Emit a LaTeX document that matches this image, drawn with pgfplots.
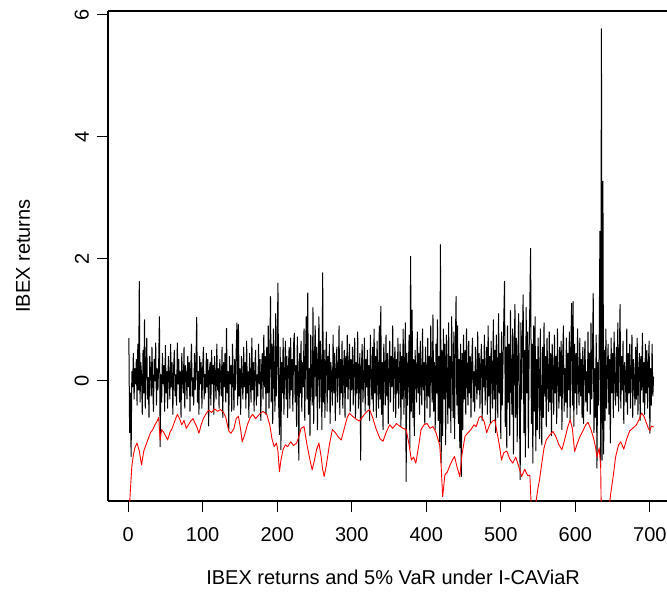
\documentclass[border=0pt]{standalone}
\usepackage{fontspec}
\setmainfont{Liberation Sans}
\usepackage{pgfplots}
\pgfplotsset{compat=1.18}

\begin{document}
\begin{tikzpicture}
\begin{axis}[
    name=ax,
    scale only axis,
    width=279.5pt, height=245pt,
    xmin=-27, xmax=723, ymin=-1.97, ymax=6.06,
    axis x line*=box, axis y line*=left,
    axis line style={line width=0.6pt},
    xtick={0,100,...,700}, ytick={0,2,4,6},
    xtick pos=left, ytick pos=left,
    tick align=outside, major tick length=5.5pt,
    tick style={black, line width=0.6pt},
    tick label style={font=\fontsize{10}{12}\selectfont},
    /pgf/number format/assume math mode=true,
    xticklabel shift=4pt, yticklabel shift=0.5pt,
    yticklabel style={rotate=90, anchor=south},
    xlabel={IBEX returns and 5\% VaR under I-CAViaR},
    ylabel={IBEX returns},
    label style={font=\fontsize{10}{12}\selectfont},
    xlabel style={at={(axis description cs:0.51,-0.155)}, anchor=center},
    ylabel style={at={(axis description cs:-0.152,0.5)}, anchor=center},
]
% IBEX returns
\addplot[black, line width=0.5pt, line join=round] coordinates {
(1,0.70)(2,-0.85)(3,-0.20)(4,-1.24)(5,0.15)(6,-0.10)(7,0.45)(8,-0.30)(9,0.20)(10,-0.05)
(11,0.35)(12,-0.40)(13,0.60)(14,-0.15)(15,1.63)(16,-0.35)(17,0.30)(18,0.10)(19,-0.55)(20,0.50)
(21,-0.20)(22,1.00)(23,-0.45)(24,0.25)(25,0.70)(26,-0.30)(27,0.05)(28,-0.60)(29,0.40)(30,0.15)
(31,-0.25)(32,0.55)(33,-0.10)(34,-0.50)(35,0.35)(36,0.00)(37,0.62)(38,-0.40)(39,0.20)(40,-0.15)
(41,0.30)(42,1.05)(43,-1.08)(44,0.10)(45,-0.35)(46,0.45)(47,-0.05)(48,0.25)(49,-0.50)(50,0.58)
(51,-0.20)(52,0.15)(53,-0.45)(54,0.40)(55,0.05)(56,-0.30)(57,0.60)(58,-0.10)(59,0.30)(60,-0.55)
(61,0.20)(62,0.50)(63,-0.25)(64,0.10)(65,-0.40)(66,0.62)(67,-0.05)(68,0.35)(69,-0.35)(70,0.15)
(71,-0.60)(72,0.45)(73,0.00)(74,-0.20)(75,0.55)(76,-0.45)(77,0.25)(78,0.10)(79,-0.30)(80,0.40)
(81,-0.10)(82,0.30)(83,-0.50)(84,0.20)(85,0.60)(86,-0.25)(87,0.05)(88,-0.40)(89,0.45)(90,-0.15)
(91,0.25)(92,1.04)(93,-0.35)(94,0.15)(95,-0.55)(96,0.40)(97,-0.05)(98,0.30)(99,-0.45)(100,0.20)
(101,0.55)(102,-0.30)(103,0.10)(104,-0.20)(105,0.45)(106,-0.10)(107,0.35)(108,-0.74)(109,0.15)(110,0.30)
(111,-0.40)(112,0.50)(113,-0.05)(114,0.25)(115,-0.55)(116,0.40)(117,0.00)(118,-0.30)(119,0.60)(120,-0.15)
(121,0.20)(122,-0.45)(123,0.35)(124,0.05)(125,-0.25)(126,0.55)(127,-0.60)(128,0.30)(129,-0.10)(130,0.45)
(131,-0.35)(132,0.86)(133,-0.20)(134,0.15)(135,-0.80)(136,0.40)(137,-0.05)(138,0.25)(139,-0.50)(140,0.60)
(141,0.10)(142,-0.48)(143,0.35)(144,-0.15)(145,0.50)(146,0.95)(147,-0.40)(148,0.92)(149,-0.25)(150,0.20)
(151,-0.55)(152,0.40)(153,0.05)(154,-0.30)(155,0.55)(156,-0.10)(157,0.30)(158,-0.45)(159,0.65)(160,-0.20)
(161,0.15)(162,-0.60)(163,0.45)(164,0.00)(165,-0.35)(166,0.70)(167,-0.15)(168,0.30)(169,-0.50)(170,0.25)
(171,0.50)(172,-0.40)(173,0.10)(174,-0.25)(175,0.60)(176,-0.05)(177,0.35)(178,-0.65)(179,0.20)(180,0.45)
(181,-0.30)(182,0.75)(183,-0.10)(184,0.40)(185,-0.55)(186,0.55)(187,-0.20)(188,0.90)(189,-0.45)(190,0.30)
(191,1.38)(192,-0.35)(193,0.60)(194,-0.70)(195,0.85)(196,0.10)(197,-0.50)(198,1.10)(199,-0.25)(200,0.40)
(201,1.60)(202,-0.40)(203,-0.88)(204,0.55)(205,-1.13)(206,0.30)(207,-0.20)(208,0.70)(209,-0.55)(210,0.15)
(211,0.65)(212,-0.30)(213,0.40)(214,-0.60)(215,0.20)(216,0.55)(217,-0.45)(218,0.70)(219,-0.15)(220,0.35)
(221,-0.50)(222,0.60)(223,0.78)(224,-0.35)(225,0.25)(226,-0.75)(227,0.72)(228,0.10)(229,-1.30)(230,0.45)
(231,-0.20)(232,0.65)(233,-0.50)(234,0.30)(235,-0.10)(236,0.85)(237,-0.65)(238,0.40)(239,1.05)(240,-0.30)
(241,1.44)(242,-0.55)(243,0.20)(244,-0.90)(245,0.75)(246,0.05)(247,-0.40)(248,1.20)(249,-0.70)(250,0.35)
(251,0.90)(252,-0.25)(253,0.55)(254,-0.80)(255,0.30)(256,1.05)(257,-0.45)(258,0.65)(259,0.15)(260,-0.80)
(261,1.77)(262,-0.35)(263,0.50)(264,-0.60)(265,0.25)(266,0.80)(267,-0.50)(268,0.40)(269,-0.15)(270,0.60)
(271,-0.70)(272,0.30)(273,0.05)(274,-0.40)(275,0.75)(276,-0.20)(277,0.45)(278,-0.65)(279,0.20)(280,0.55)
(281,-0.35)(282,0.10)(283,0.90)(284,-0.55)(285,0.35)(286,-0.20)(287,0.65)(288,-0.45)(289,0.15)(290,0.50)
(291,-0.60)(292,0.40)(293,-0.10)(294,0.75)(295,-0.30)(296,0.20)(297,0.60)(298,-0.50)(299,0.35)(300,-0.15)
(301,0.55)(302,-0.40)(303,0.25)(304,0.70)(305,-0.60)(306,0.30)(307,-0.20)(308,0.80)(309,-0.45)(310,0.15)
(311,0.45)(312,-1.30)(313,0.20)(314,0.60)(315,-0.35)(316,0.05)(317,0.70)(318,-0.50)(319,0.35)(320,-0.10)
(321,0.50)(322,-0.40)(323,0.25)(324,-0.65)(325,0.75)(326,0.10)(327,-0.30)(328,0.55)(329,-0.50)(330,0.85)
(331,-0.20)(332,0.40)(333,-0.60)(334,0.65)(335,0.05)(336,-0.45)(337,0.90)(338,-0.30)(339,1.22)(340,-0.55)
(341,0.30)(342,-0.80)(343,0.60)(344,0.15)(345,-0.40)(346,0.75)(347,-0.25)(348,0.45)(349,-0.70)(350,0.20)
(351,0.65)(352,-0.35)(353,0.40)(354,-0.10)(355,0.90)(356,-0.50)(357,0.25)(358,0.55)(359,-0.60)(360,0.35)
(361,-0.20)(362,0.70)(363,-0.45)(364,0.10)(365,0.60)(366,-0.75)(367,0.40)(368,-0.30)(369,0.85)(370,-0.55)
(371,0.30)(372,0.95)(373,-1.65)(374,0.45)(375,-0.40)(376,0.20)(377,0.75)(378,-1.10)(379,2.04)(380,-0.50)
(381,1.16)(382,-0.60)(383,0.35)(384,-0.90)(385,0.50)(386,0.10)(387,-0.35)(388,0.80)(389,-0.20)(390,0.45)
(391,-0.55)(392,0.65)(393,0.00)(394,-0.40)(395,0.85)(396,-0.15)(397,0.30)(398,-0.70)(399,0.55)(400,0.10)
(401,-0.45)(402,0.70)(403,-0.25)(404,0.40)(405,-0.60)(406,0.90)(407,0.15)(408,-0.35)(409,1.08)(410,-0.50)
(411,0.30)(412,-0.80)(413,0.60)(414,-0.20)(415,1.00)(416,-0.65)(417,0.40)(418,-1.00)(419,2.23)(420,-1.35)
(421,0.50)(422,-0.90)(423,0.85)(424,-0.30)(425,0.60)(426,-1.05)(427,0.75)(428,0.10)(429,-0.70)(430,0.95)
(431,-0.45)(432,0.40)(433,-0.85)(434,1.05)(435,0.20)(436,-0.60)(437,0.80)(438,-0.95)(439,0.55)(440,1.38)
(441,-0.40)(442,0.90)(443,-0.70)(444,0.35)(445,-1.10)(446,0.60)(447,-1.57)(448,0.45)(449,-0.80)(450,0.75)
(451,-0.30)(452,0.50)(453,-0.55)(454,0.85)(455,0.00)(456,-0.40)(457,0.65)(458,-0.20)(459,0.40)(460,-0.60)
(461,0.30)(462,0.70)(463,-0.35)(464,0.15)(465,-0.50)(466,0.55)(467,0.05)(468,-0.30)(469,0.80)(470,-0.15)
(471,0.45)(472,-0.45)(473,0.25)(474,0.60)(475,-0.65)(476,0.35)(477,-0.10)(478,0.75)(479,-0.40)(480,0.20)
(481,0.55)(482,-0.55)(483,0.90)(484,-0.25)(485,0.40)(486,-0.70)(487,0.65)(488,0.05)(489,-0.45)(490,1.00)
(491,-0.30)(492,0.50)(493,-0.85)(494,0.75)(495,0.10)(496,-0.60)(497,1.10)(498,-0.20)(499,0.45)(500,-0.95)
(501,0.80)(502,-0.40)(503,0.30)(504,1.00)(505,1.63)(506,-0.75)(507,0.55)(508,-1.10)(509,0.90)(510,-0.35)
(511,0.60)(512,-0.90)(513,1.15)(514,0.00)(515,-0.55)(516,0.85)(517,-1.20)(518,0.40)(519,1.25)(520,-0.60)
(521,0.70)(522,-1.00)(523,0.35)(524,1.10)(525,-0.45)(526,-1.62)(527,0.95)(528,-0.30)(529,0.65)(530,1.41)
(531,-0.85)(532,0.50)(533,-1.25)(534,1.20)(535,-0.20)(536,0.80)(537,-1.10)(538,0.45)(539,1.30)(540,2.17)
(541,-0.70)(542,0.60)(543,-1.35)(544,0.90)(545,-0.50)(546,1.05)(547,-1.15)(548,0.35)(549,-0.80)(550,0.70)
(551,0.15)(552,-0.95)(553,0.85)(554,-0.40)(555,-1.05)(556,0.55)(557,-0.60)(558,0.95)(559,-0.25)(560,0.40)
(561,-0.75)(562,0.70)(563,0.05)(564,-0.50)(565,0.80)(566,-0.35)(567,0.45)(568,-0.90)(569,0.60)(570,0.10)
(571,-0.55)(572,0.75)(573,-0.20)(574,0.40)(575,-0.70)(576,0.85)(577,0.00)(578,-0.45)(579,0.55)(580,-0.25)
(581,0.65)(582,-0.80)(583,0.35)(584,0.90)(585,-0.50)(586,0.20)(587,-0.35)(588,0.70)(589,-0.60)(590,0.45)
(591,-0.15)(592,0.80)(593,-0.65)(594,0.50)(595,1.27)(596,-0.40)(597,1.30)(598,-0.75)(599,0.60)(600,-0.20)
(601,0.45)(602,-0.55)(603,0.85)(604,0.05)(605,-0.40)(606,0.70)(607,-0.25)(608,0.35)(609,-0.60)(610,0.55)
(611,-0.70)(612,0.30)(613,0.65)(614,-0.35)(615,0.15)(616,-0.50)(617,0.80)(618,-0.20)(619,0.45)(620,-0.55)
(621,0.95)(622,-0.30)(623,0.40)(624,1.43)(625,-0.85)(626,0.20)(627,-0.60)(628,0.75)(629,-1.43)(630,0.30)
(631,-0.40)(632,0.60)(633,2.45)(634,-1.40)(635,5.77)(636,-1.30)(637,3.27)(638,-1.20)(639,0.50)(640,-0.65)
(641,0.85)(642,-0.45)(643,0.20)(644,0.60)(645,-0.55)(646,0.35)(647,-1.02)(648,0.70)(649,-0.20)(650,0.45)
(651,-0.60)(652,0.80)(653,0.05)(654,-0.40)(655,0.55)(656,-0.25)(657,0.95)(658,-0.50)(659,0.30)(660,1.25)
(661,-0.45)(662,0.40)(663,-0.15)(664,0.65)(665,-0.70)(666,0.30)(667,0.10)(668,-0.35)(669,0.85)(670,-0.55)
(671,0.45)(672,-0.20)(673,0.60)(674,-0.45)(675,0.25)(676,0.75)(677,-0.60)(678,0.35)(679,0.00)(680,-0.40)
(681,0.55)(682,-0.30)(683,0.70)(684,-0.55)(685,0.20)(686,0.45)(687,-0.65)(688,0.40)(689,-0.15)(690,0.78)
(691,-0.35)(692,0.30)(693,-0.55)(694,0.60)(695,-0.20)(696,0.50)(697,-0.45)(698,0.25)(699,0.65)(700,-0.86)
(701,0.20)(702,-0.40)(703,0.60)(704,-0.25)(705,0.07)
};
% 5% VaR under I-CAViaR
\addplot[red, line width=0.45pt, line join=round] coordinates {
(1,-2.25)(3,-1.80)(5,-1.40)(7,-1.22)(9,-1.10)(12,-1.02)(15,-1.15)(18,-1.38)(21,-1.15)(24,-1.05)
(27,-0.95)(30,-0.85)(33,-0.80)(36,-0.72)(39,-0.66)(41,-0.60)(43,-0.97)(45,-0.80)(48,-0.85)(51,-0.92)
(53,-0.97)(56,-0.85)(59,-0.78)(62,-0.68)(66,-0.55)(69,-0.62)(72,-0.72)(75,-0.65)(78,-0.78)(81,-0.72)
(84,-0.66)(87,-0.62)(90,-0.70)(93,-0.78)(95,-0.86)(98,-0.72)(101,-0.62)(104,-0.55)(108,-0.48)(112,-0.52)
(116,-0.46)(120,-0.50)(124,-0.47)(128,-0.52)(131,-0.60)(135,-0.82)(138,-0.86)(142,-0.78)(145,-0.62)(148,-0.58)
(151,-0.80)(153,-1.00)(156,-0.90)(160,-0.72)(164,-0.60)(167,-0.55)(171,-0.62)(176,-0.55)(181,-0.50)(186,-0.55)
(190,-0.72)(193,-0.95)(196,-1.08)(199,-1.02)(201,-1.15)(203,-1.49)(205,-1.30)(208,-1.12)(211,-1.05)(214,-1.08)
(218,-1.00)(222,-1.06)(226,-1.02)(229,-0.92)(232,-0.78)(236,-0.75)(240,-1.05)(244,-1.30)(247,-1.46)(250,-1.30)
(253,-1.12)(256,-1.02)(259,-1.25)(261,-1.45)(263,-1.57)(266,-1.38)(270,-1.05)(274,-0.80)(278,-0.85)(282,-0.92)
(286,-0.97)(290,-0.78)(294,-0.60)(297,-0.53)(301,-0.58)(305,-0.62)(310,-0.66)(314,-0.60)(319,-0.52)(324,-0.47)
(328,-0.60)(333,-0.80)(338,-0.95)(342,-0.99)(346,-0.85)(351,-0.72)(355,-0.78)(360,-0.70)(365,-0.75)(369,-0.78)
(373,-0.80)(377,-1.05)(380,-1.30)(383,-1.25)(386,-1.35)(390,-1.05)(393,-0.80)(397,-0.72)(401,-0.70)(405,-0.78)
(409,-0.75)(413,-0.85)(418,-1.05)(420,-1.40)(422,-1.90)(425,-1.54)(428,-1.50)(432,-1.38)(435,-1.30)(438,-1.24)
(441,-1.40)(445,-1.57)(448,-1.20)(452,-0.91)(456,-0.85)(460,-0.80)(464,-0.72)(467,-0.75)(471,-0.60)(474,-0.58)
(478,-0.68)(481,-0.85)(485,-0.72)(489,-0.66)(492,-0.64)(495,-0.85)(498,-1.05)(501,-1.30)(504,-1.18)(508,-1.15)
(512,-1.28)(516,-1.35)(520,-1.25)(524,-1.40)(528,-1.57)(532,-1.45)(536,-1.55)(539,-1.55)(541,-2.10)(544,-2.20)
(547,-2.00)(550,-1.75)(552,-1.62)(555,-1.35)(558,-1.10)(561,-0.97)(565,-0.90)(570,-0.83)(574,-0.92)(578,-1.05)
(582,-1.13)(586,-0.95)(590,-0.75)(593,-0.64)(596,-0.78)(599,-1.16)(602,-1.05)(606,-0.92)(611,-0.80)(614,-0.72)
(617,-0.68)(621,-0.80)(624,-0.92)(627,-1.08)(629,-1.25)(632,-1.10)(634,-1.40)(635,-2.40)(640,-2.60)(645,-2.10)
(648,-1.80)(651,-1.55)(654,-1.25)(658,-1.05)(661,-1.00)(665,-1.12)(669,-0.95)(673,-0.82)(677,-0.78)(682,-0.72)
(686,-0.62)(689,-0.53)(692,-0.58)(695,-0.68)(698,-0.78)(700,-0.82)(702,-0.74)(705,-0.76)
};
\end{axis}
\pgfresetboundingbox
\path[use as bounding box] ([xshift=-54pt,yshift=-51.5pt]ax.south west) rectangle ([yshift=5.5pt]ax.north east);
\end{tikzpicture}
\end{document}
